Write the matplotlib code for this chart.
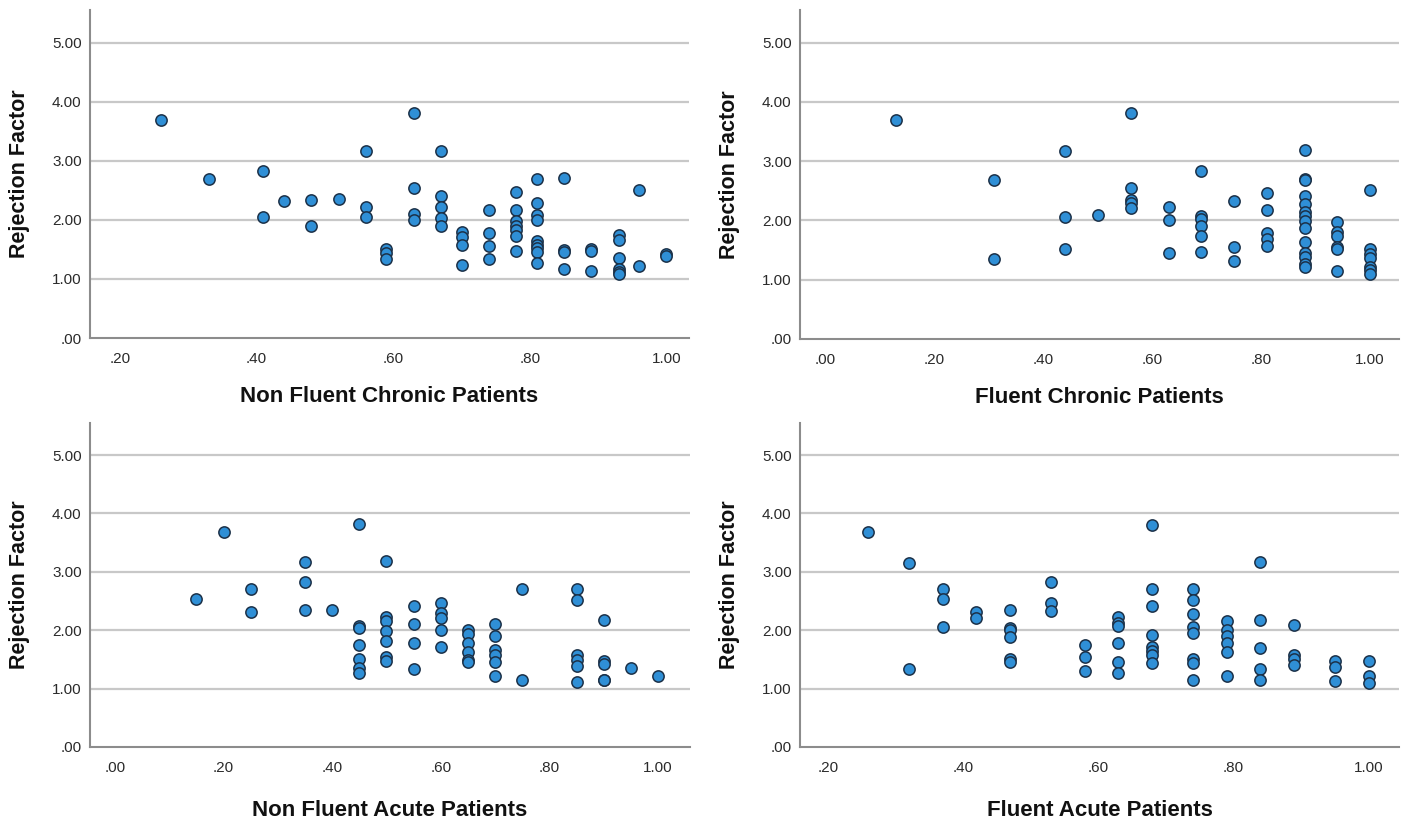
import matplotlib
matplotlib.use("Agg")
import matplotlib.pyplot as plt
from matplotlib.ticker import FuncFormatter

plt.rcParams["font.family"] = ["Liberation Sans", "DejaVu Sans"]

# Non Fluent Chronic Patients: x positions and the y values stacked at each
nfc_x = [.26, .33, .41, .44, .48, .52, .56, .59, .63, .67, .70, .74, .78, .81, .85, .89, .93, .96, 1.00]
nfc_y = [[3.69], [2.69], [2.83, 2.04], [2.31], [2.33, 1.90], [2.35], [3.16, 2.21, 2.04],
         [1.51, 1.43, 1.34], [3.81, 2.54, 2.10, 2.00], [3.17, 2.41, 2.22, 2.03, 1.90],
         [1.79, 1.71, 1.58, 1.23], [2.17, 1.78, 1.56, 1.33],
         [2.47, 2.16, 1.98, 1.90, 1.82, 1.72, 1.47],
         [2.69, 2.28, 2.08, 1.99, 1.64, 1.58, 1.53, 1.45, 1.27],
         [2.70, 1.49, 1.45, 1.16], [1.51, 1.47, 1.13],
         [1.75, 1.65, 1.36, 1.17, 1.12, 1.09], [2.51, 1.22], [1.42, 1.38]]

# Fluent Chronic Patients
fc_x = [.13, .31, .44, .50, .56, .63, .69, .75, .81, .88, .94, 1.00]
fc_y = [[3.69], [2.69, 1.35], [3.17, 2.05, 1.51], [2.10], [3.81, 2.54, 2.35, 2.30, 2.21],
        [2.22, 2.00, 1.45], [2.83, 2.07, 2.03, 1.90, 1.74, 1.46], [2.32, 1.55, 1.32],
        [2.46, 2.17, 1.79, 1.69, 1.57],
        [3.18, 2.70, 2.68, 2.41, 2.27, 2.14, 2.07, 1.99, 1.88, 1.64, 1.45, 1.39, 1.26, 1.22],
        [1.97, 1.80, 1.73, 1.55, 1.51, 1.15],
        [2.51, 1.51, 1.43, 1.37, 1.22, 1.17, 1.10]]

# Non Fluent Acute Patients
nfa_x = [.15, .20, .25, .35, .40, .45, .50, .55, .60, .65, .70, .75, .85, .90, .95, 1.00]
nfa_y = [[2.54], [3.69], [2.70, 2.31], [3.17, 2.83, 2.35], [2.34],
         [3.82, 2.07, 2.04, 1.74, 1.51, 1.35, 1.27],
         [3.18, 2.23, 2.15, 1.98, 1.81, 1.55, 1.47], [2.41, 2.10, 1.78, 1.33],
         [2.47, 2.29, 2.21, 2.01, 1.71], [2.00, 1.93, 1.78, 1.62, 1.49, 1.45],
         [2.10, 1.90, 1.66, 1.57, 1.45, 1.22], [2.70, 1.15],
         [2.71, 2.51, 1.58, 1.49, 1.39, 1.11], [2.17, 1.47, 1.42, 1.15, 1.14],
         [1.35], [1.22]]

# Fluent Acute Patients
fa_x = [.26, .32, .37, .42, .47, .53, .58, .63, .68, .74, .79, .84, .89, .95, 1.00]
fa_y = [[3.69], [3.16, 1.34], [2.70, 2.54, 2.05], [2.31, 2.21],
        [2.35, 2.04, 2.00, 1.88, 1.51, 1.46], [2.83, 2.46, 2.33], [1.74, 1.55, 1.31],
        [2.22, 2.12, 2.07, 1.78, 1.45, 1.26],
        [3.81, 2.70, 2.41, 1.91, 1.71, 1.64, 1.57, 1.44],
        [2.71, 2.51, 2.28, 2.06, 1.95, 1.51, 1.44, 1.14],
        [2.15, 2.01, 1.90, 1.79, 1.63, 1.21], [3.17, 2.17, 1.70, 1.34, 1.14],
        [2.09, 1.57, 1.50, 1.41], [1.47, 1.37, 1.13], [1.48, 1.21, 1.10]]

y_ticks = [0, 1, 2, 3, 4, 5]
y_label = "Rejection Factor"

W, H = 1410, 823


def spss_fmt(v, _pos=None):
    s = f"{v:.2f}"
    return s[1:] if s.startswith("0.") else s


def px_rect(left, right, top, bottom):
    return [left / W, (H - bottom) / H, (right - left) / W, (bottom - top) / H]


panels = [
    # x, y groups, label, rect, xlim, xticks, xlabel y offset
    (nfc_x, nfc_y, "Non Fluent Chronic Patients", px_rect(90, 689, 10, 338),
     (0.156, 1.033), [.2, .4, .6, .8, 1.0], -0.177),
    (fc_x, fc_y, "Fluent Chronic Patients", px_rect(800, 1399, 10, 339),
     (-0.047, 1.053), [0, .2, .4, .6, .8, 1.0], -0.177),
    (nfa_x, nfa_y, "Non Fluent Acute Patients", px_rect(90, 690, 423, 747),
     (-0.046, 1.059), [0, .2, .4, .6, .8, 1.0], -0.195),
    (fa_x, fa_y, "Fluent Acute Patients", px_rect(800, 1399, 423, 747),
     (0.159, 1.045), [.2, .4, .6, .8, 1.0], -0.195),
]

fig = plt.figure(figsize=(W / 100, H / 100), dpi=100)

for xs, ygroups, label, rect, xlim, xticks, xlab_y in panels:
    ax = fig.add_axes(rect)
    px, py = [], []
    for x, ys in zip(xs, ygroups):
        px.extend([x] * len(ys))
        py.extend(ys)

    for yv in y_ticks[1:]:
        ax.axhline(yv, color="#c8c8c8", linewidth=1.6, zorder=1)
    ax.scatter(px, py, s=66, facecolor="#2f8fd6", edgecolor="#1c3148",
               linewidth=1.1, zorder=3)

    ax.set_xlim(*xlim)
    ax.set_ylim(0, 5.55)
    ax.set_xticks(xticks)
    ax.set_yticks(y_ticks)
    ax.xaxis.set_major_formatter(FuncFormatter(spss_fmt))
    ax.yaxis.set_major_formatter(FuncFormatter(spss_fmt))
    ax.tick_params(length=0, labelsize=11, colors="#2a2a2a")
    ax.tick_params(axis="x", pad=10)
    ax.tick_params(axis="y", pad=6)

    for side in ("top", "right"):
        ax.spines[side].set_visible(False)
    for side in ("left", "bottom"):
        ax.spines[side].set_color("#8c8c8c")
        ax.spines[side].set_linewidth(1.5)

    ax.set_ylabel(y_label, fontsize=15.5, fontweight="bold", color="#111111")
    ax.yaxis.set_label_coords(-0.117, 0.5)
    ax.yaxis.label.set_va("center")
    ax.set_xlabel(label, fontsize=16, fontweight="bold", color="#111111")
    ax.xaxis.set_label_coords(0.5, xlab_y)
    ax.xaxis.label.set_va("center")

fig.savefig("out.png", dpi=100)
